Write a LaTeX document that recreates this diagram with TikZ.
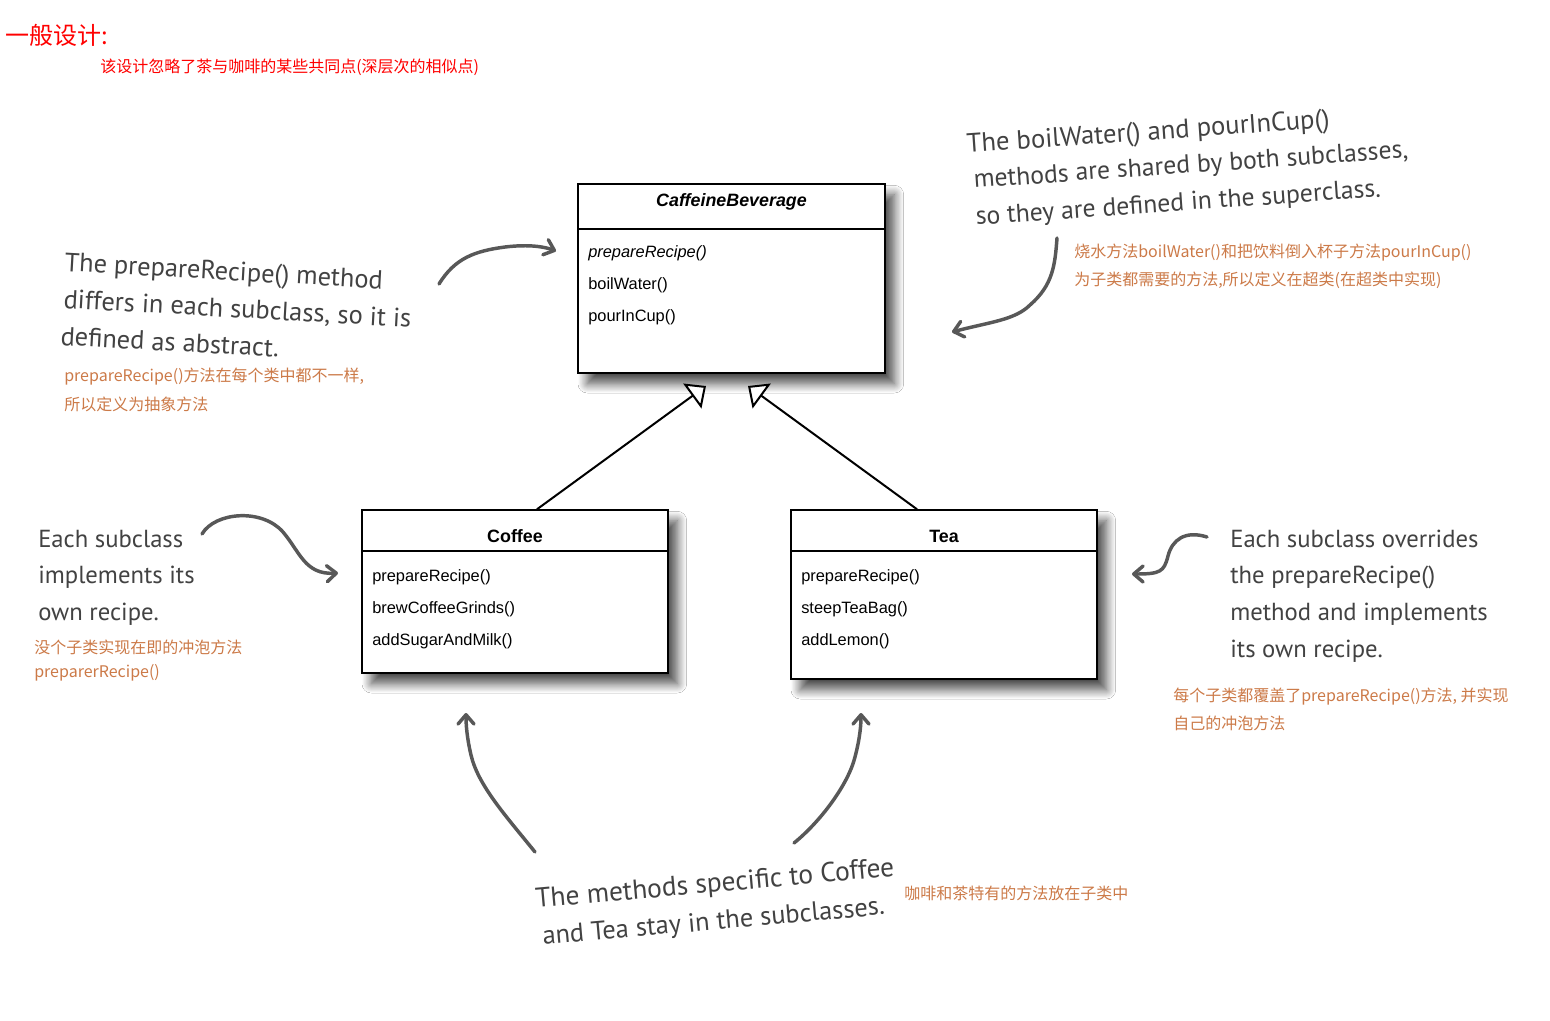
\documentclass[tikz,border=0pt]{standalone}
\usepackage{fontspec}
\setmainfont{Liberation Sans}
\newfontfamily\cjk{Noto Sans CJK SC}
\newfontfamily\hand{PT Sans}
\usetikzlibrary{arrows.meta,shadows.blur}

\definecolor{note}{RGB}{204,122,72}
\definecolor{ink}{RGB}{66,66,66}
\definecolor{pen}{RGB}{88,88,88}

\tikzset{
  classbox/.style={draw=black, line width=1.1pt, fill=white, inner sep=0pt,
    blur shadow={shadow xshift=7pt, shadow yshift=-8pt, shadow blur radius=7pt,
                 shadow opacity=70, shadow blur steps=12}},
  divider/.style={line width=1.6pt},
  ctitle/.style={inner sep=0pt, anchor=base, font=\fontsize{13.4pt}{16pt}\selectfont\bfseries},
  meth/.style={inner sep=0pt, anchor=base west, font=\fontsize{12.3pt}{15pt}\selectfont},
  inherit/.style={line width=1.5pt, -{Triangle[open,length=12.75pt,width=23pt,fill=white]}},
  hand/.style={draw=pen, line width=2.6pt, line cap=round, -{Straight Barb[length=7pt,width=12pt,round]}},
  handtxt/.style={inner sep=0pt, anchor=base west, text=ink, font=\hand\fontsize{18.5pt}{22pt}\selectfont},
  handbig/.style={handtxt, font=\hand\fontsize{#1}{22pt}\selectfont},
  cnote/.style={inner sep=0pt, anchor=west, text=note, font=\cjk\fontsize{12pt}{14pt}\selectfont},
}

\begin{document}
\begin{tikzpicture}[x=0.75pt, y=-0.75pt]
  % canvas
  \fill[white] (0,0) rectangle (1550,1021);
  \useasboundingbox (0,0) rectangle (1550,1021);

  % heading
  \node[inner sep=0pt, anchor=west, text=red, font=\cjk\fontsize{18pt}{20pt}\selectfont] (head) at (5,35) {一般设计:};
  \node[inner sep=0pt, anchor=west, text=red, font=\cjk\fontsize{12pt}{14pt}\selectfont] (subhead) at (100,67) {该设计忽略了茶与咖啡的某些共同点(深层次的相似点)};

  % superclass
  \node[classbox, minimum width=230.25pt, minimum height=141.75pt] (cb) at (731.5,278.5) {};
  \draw[divider] ([yshift=-34.5pt]cb.north west) -- ([yshift=-34.5pt]cb.north east);
  \node[ctitle, font=\fontsize{13.4pt}{16pt}\selectfont\bfseries\itshape] (cbT) at (731.5,206) {CaffeineBeverage};
  \node[meth, font=\fontsize{12.3pt}{15pt}\selectfont\itshape] (cbM1) at (588,257) {prepareRecipe()};
  \node[meth] (cbM2) at (588,289) {boilWater()};
  \node[meth] (cbM3) at (588,321) {pourInCup()};

  % subclass Coffee
  \node[classbox, minimum width=229.5pt, minimum height=122.25pt] (cf) at (515,591.5) {};
  \draw[divider] ([yshift=-31.5pt]cf.north west) -- ([yshift=-31.5pt]cf.north east);
  \node[ctitle] (cfT) at (515,542) {Coffee};
  \node[meth] (cfM1) at (372,581) {prepareRecipe()};
  \node[meth] (cfM2) at (372,613) {brewCoffeeGrinds()};
  \node[meth] (cfM3) at (372,645) {addSugarAndMilk()};

  % subclass Tea
  \node[classbox, minimum width=229.5pt, minimum height=126.75pt] (tea) at (944,594.5) {};
  \draw[divider] ([yshift=-31.5pt]tea.north west) -- ([yshift=-31.5pt]tea.north east);
  \node[ctitle] (teaT) at (944,542) {Tea};
  \node[meth] (teaM1) at (801,581) {prepareRecipe()};
  \node[meth] (teaM2) at (801,613) {steepTeaBag()};
  \node[meth] (teaM3) at (801,645) {addLemon()};

  % generalisation arrows
  \coordinate (tipL) at (706,386);
  \coordinate (tipR) at (748,386);
  \draw[inherit] ([xshift=16.5pt]cf.north) -- (tipL);
  \draw[inherit] ([xshift=-20.25pt]tea.north) -- (tipR);

  % note: shared methods
  \node[handbig=20pt, rotate=4] (nA1) at (967,153) {The boilWater() and pourInCup()};
  \node[handbig=19.3pt, rotate=4] (nA2) at (974,188) {methods are shared by both subclasses,};
  \node[handbig=19.3pt, rotate=4] (nA3) at (976,225) {so they are defined in the superclass.};
  \node[cnote] (cA1) at (1074,253) {烧水方法boilWater()和把饮料倒入杯子方法pourInCup()};
  \node[cnote] (cA2) at (1074,280) {为子类都需要的方法,所以定义在超类(在超类中实现)};
  \coordinate (aAs) at (1057,238);
  \coordinate (aAe) at (952,332);
  \draw[hand] (aAs) .. controls (1055,265) and (1053,285) .. (1030,305)
                    .. controls (1015,320) and (990,322) .. (aAe);

  % note: abstract method
  \node[handbig=19.8pt, rotate=-3.2] (nB1) at (64,271) {The prepareRecipe() method};
  \node[handbig=19.8pt, rotate=-3.2] (nB2) at (63,308) {differs in each subclass, so it is};
  \node[handbig=19.8pt, rotate=-3.2] (nB3) at (60,345) {defined as abstract.};
  \node[cnote] (cB1) at (64,377) {prepareRecipe()方法在每个类中都不一样,};
  \node[cnote] (cB2) at (64,404) {所以定义为抽象方法};
  \coordinate (aBs) at (439,284);
  \coordinate (aBe) at (556,251);
  \draw[hand] (aBs) .. controls (455,258) and (475,251) .. (505,247)
                    .. controls (530,244) and (545,247) .. (aBe);

  % note: each subclass implements
  \node[handtxt] (nC1) at (38,547) {Each subclass};
  \node[handtxt] (nC2) at (38,583) {implements its};
  \node[handtxt] (nC3) at (38,620) {own recipe.};
  \node[cnote] (cC1) at (34,647) {没个子类实现在即的冲泡方法};
  \node[cnote] (cC2) at (34,673) {preparerRecipe()};
  \coordinate (aCs) at (202,534);
  \coordinate (aCe) at (338,573);
  \draw[hand] (aCs) .. controls (215,512) and (262,508) .. (283,532)
                    .. controls (300,552) and (305,575) .. (aCe);

  % note: each subclass overrides
  \node[handtxt] (nD1) at (1230,547) {Each subclass overrides};
  \node[handtxt] (nD2) at (1230,583) {the prepareRecipe()};
  \node[handtxt] (nD3) at (1230,620) {method and implements};
  \node[handtxt] (nD4) at (1230,657) {its own recipe.};
  \node[cnote] (cD1) at (1173,697) {每个子类都覆盖了prepareRecipe()方法, 并实现};
  \node[cnote] (cD2) at (1173,723) {自己的冲泡方法};
  \coordinate (aDs) at (1207,537);
  \coordinate (aDe) at (1132,574);
  \draw[hand] (aDs) .. controls (1185,530) and (1172,540) .. (1168,556)
                    .. controls (1164,572) and (1160,574) .. (aDe);

  % note: methods specific to the subclasses
  \node[handbig=20.6pt, rotate=5.1] (nE1) at (536,908) {The methods specific to Coffee};
  \node[handbig=19.8pt, rotate=5.1] (nE2) at (543,945) {and Tea stay in the subclasses.};
  \node[cnote] (cE1) at (904,893) {咖啡和茶特有的方法放在子类中};
  \coordinate (aE1s) at (535,852);
  \coordinate (aE1e) at (466,713);
  \draw[hand] (aE1s) .. controls (505,815) and (478,785) .. (471,755)
                     .. controls (467,738) and (466,725) .. (aE1e);
  \coordinate (aE2s) at (794,843);
  \coordinate (aE2e) at (861,713);
  \draw[hand] (aE2s) .. controls (820,822) and (848,785) .. (855,757)
                     .. controls (860,738) and (861,725) .. (aE2e);
\end{tikzpicture}
\end{document}
